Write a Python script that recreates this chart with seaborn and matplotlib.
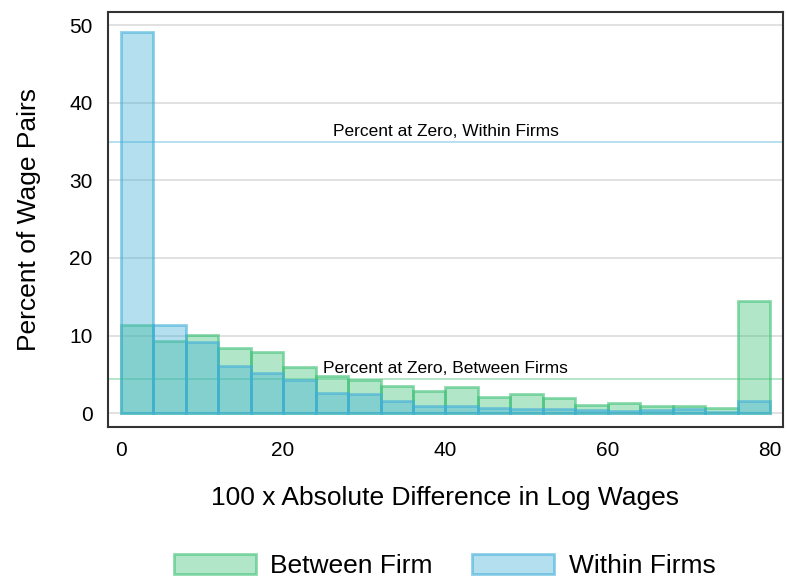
import matplotlib
matplotlib.use("Agg")
import matplotlib.pyplot as plt
from matplotlib.colors import to_rgba
from matplotlib.patches import Patch
import pandas as pd
import seaborn as sns

# ---------------------------------------------------------------------------
# Data: pre-binned histograms (bin width 4, 0..80), percent of wage pairs
# ---------------------------------------------------------------------------
BIN_EDGES = list(range(0, 84, 4))
BIN_CENTERS = [e + 2 for e in BIN_EDGES[:-1]]

between_pct = [11.4, 9.3, 10.1, 8.4, 7.9, 5.9, 4.8, 4.3, 3.5, 2.9,
               3.4, 2.1, 2.5, 1.9, 1.1, 1.3, 0.9, 0.9, 0.7, 14.5]
within_pct = [49.1, 11.4, 9.1, 6.1, 5.2, 4.3, 2.6, 2.4, 1.6, 0.9,
              0.95, 0.7, 0.55, 0.5, 0.4, 0.3, 0.4, 0.5, 0.2, 1.5]

zero_within = 35.0
zero_between = 4.4

GREEN = "#3fc176"
BLUE = "#41afd9"

df = pd.DataFrame({
    "diff": BIN_CENTERS + BIN_CENTERS,
    "pct": between_pct + within_pct,
    "group": ["Between Firm"] * len(BIN_CENTERS) + ["Within Firms"] * len(BIN_CENTERS),
})

sns.set_theme(style="white")
plt.rcParams["font.family"] = ["Liberation Sans", "DejaVu Sans"]
plt.rcParams["text.color"] = "black"
plt.rcParams["axes.labelcolor"] = "black"

fig, ax = plt.subplots(figsize=(7.87, 5.79), dpi=100)
fig.subplots_adjust(left=0.137, right=0.995, bottom=0.2625, top=0.979)

for grp, col in [("Between Firm", GREEN), ("Within Firms", BLUE)]:
    sub = df[df["group"] == grp]
    n_before = len(ax.patches)
    sns.histplot(data=sub, x="diff", weights="pct", bins=BIN_EDGES, ax=ax,
                 color=col, linewidth=2)
    for p in ax.patches[n_before:]:
        p.set_alpha(None)
        p.set_facecolor(to_rgba(col, 0.4))
        p.set_edgecolor(to_rgba(col, 0.6))
        p.set_zorder(3)

ax.axhline(zero_within, color=BLUE, alpha=0.45, linewidth=1.2, zorder=2)
ax.axhline(zero_between, color=GREEN, alpha=0.45, linewidth=1.2, zorder=2)
ax.text(40, zero_within + 0.4, "Percent at Zero, Within Firms",
        ha="center", va="bottom", fontsize=12.5, zorder=4)
ax.text(40, zero_between + 0.4, "Percent at Zero, Between Firms",
        ha="center", va="bottom", fontsize=12.5, zorder=4)

ax.set_xlim(-1.6, 81.6)
ax.set_ylim(-1.8, 51.7)
ax.set_xticks([0, 20, 40, 60, 80])
ax.set_yticks([0, 10, 20, 30, 40, 50])
ax.yaxis.grid(True, color="#dcdcdc", linewidth=1.2)
ax.xaxis.grid(False)
ax.set_axisbelow(True)
ax.tick_params(direction="in", length=7, width=1.5, colors="#333333",
               labelsize=15, labelcolor="black")
ax.tick_params(axis="x", pad=10)
ax.tick_params(axis="y", pad=11)
for spine in ax.spines.values():
    spine.set_edgecolor("#333333")
    spine.set_linewidth(1.5)

ax.set_xlabel("100 x Absolute Difference in Log Wages", fontsize=19, labelpad=19)
ax.set_ylabel("Percent of Wage Pairs", fontsize=19, labelpad=20)

handles = [
    Patch(facecolor=to_rgba(GREEN, 0.4), edgecolor=to_rgba(GREEN, 0.6),
          linewidth=2, label="Between Firm"),
    Patch(facecolor=to_rgba(BLUE, 0.4), edgecolor=to_rgba(BLUE, 0.6),
          linewidth=2, label="Within Firms"),
]
fig.legend(handles=handles, loc="center", bbox_to_anchor=(0.565, 0.022), ncol=2,
           frameon=False, fontsize=19, handlelength=3.1, handleheight=0.75,
           columnspacing=1.5, handletextpad=0.55, borderpad=0.2)

fig.savefig("out.png", dpi=100)
